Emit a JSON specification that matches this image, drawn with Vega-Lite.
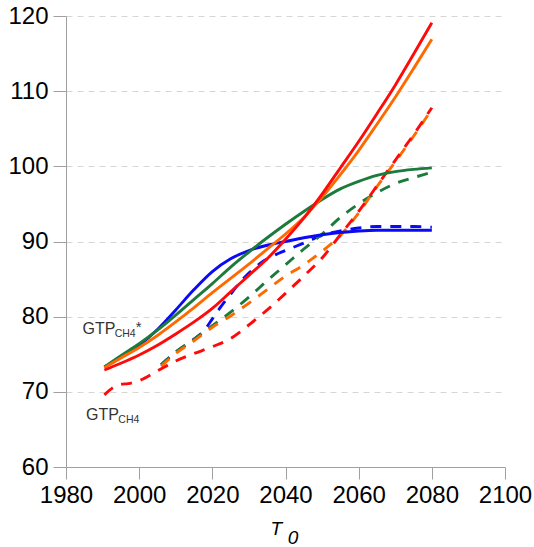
{
  "$schema": "https://vega.github.io/schema/vega-lite/v6.json",
  "autosize": "none",
  "width": 439,
  "height": 451,
  "padding": {"left": 66, "top": 16, "right": 29, "bottom": 80},
  "background": "white",
  "config": {"view": {"stroke": null}},
  "datasets": {
    "one": [{}],
    "lines": [
    {"s":"blue","t":"dashed","x":2006,"y":73.6},{"s":"blue","t":"dashed","x":2010,"y":75.3},{"s":"blue","t":"dashed","x":2015,"y":77.0},{"s":"blue","t":"dashed","x":2018,"y":78.3},{"s":"blue","t":"dashed","x":2020,"y":79.7},{"s":"blue","t":"dashed","x":2022,"y":81.1},{"s":"blue","t":"dashed","x":2025,"y":83.0},{"s":"blue","t":"dashed","x":2028,"y":84.8},{"s":"blue","t":"dashed","x":2030,"y":85.8},{"s":"blue","t":"dashed","x":2034,"y":87.4},{"s":"blue","t":"dashed","x":2038,"y":88.4},{"s":"blue","t":"dashed","x":2042,"y":89.2},{"s":"blue","t":"dashed","x":2046,"y":90.0},{"s":"blue","t":"dashed","x":2050,"y":90.8},{"s":"blue","t":"dashed","x":2055,"y":91.4},{"s":"blue","t":"dashed","x":2060,"y":91.8},{"s":"blue","t":"dashed","x":2065,"y":92.0},{"s":"blue","t":"dashed","x":2070,"y":92.0},{"s":"blue","t":"dashed","x":2075,"y":92.0},{"s":"blue","t":"dashed","x":2080,"y":91.9},
    {"s":"green","t":"dashed","x":2006,"y":73.6},{"s":"green","t":"dashed","x":2010,"y":75.3},{"s":"green","t":"dashed","x":2015,"y":77.0},{"s":"green","t":"dashed","x":2020,"y":78.8},{"s":"green","t":"dashed","x":2025,"y":80.6},{"s":"green","t":"dashed","x":2030,"y":82.6},{"s":"green","t":"dashed","x":2035,"y":84.8},{"s":"green","t":"dashed","x":2040,"y":86.9},{"s":"green","t":"dashed","x":2045,"y":89.0},{"s":"green","t":"dashed","x":2050,"y":91.0},{"s":"green","t":"dashed","x":2055,"y":93.2},{"s":"green","t":"dashed","x":2060,"y":95.0},{"s":"green","t":"dashed","x":2065,"y":96.5},{"s":"green","t":"dashed","x":2070,"y":97.7},{"s":"green","t":"dashed","x":2075,"y":98.5},{"s":"green","t":"dashed","x":2080,"y":99.2},
    {"s":"orange","t":"dashed","x":2006,"y":73.4},{"s":"orange","t":"dashed","x":2010,"y":75.1},{"s":"orange","t":"dashed","x":2015,"y":76.8},{"s":"orange","t":"dashed","x":2020,"y":78.6},{"s":"orange","t":"dashed","x":2025,"y":80.1},{"s":"orange","t":"dashed","x":2030,"y":81.8},{"s":"orange","t":"dashed","x":2035,"y":83.6},{"s":"orange","t":"dashed","x":2040,"y":85.4},{"s":"orange","t":"dashed","x":2045,"y":86.9},{"s":"orange","t":"dashed","x":2050,"y":88.7},{"s":"orange","t":"dashed","x":2055,"y":90.8},{"s":"orange","t":"dashed","x":2060,"y":93.8},{"s":"orange","t":"dashed","x":2065,"y":97.3},{"s":"orange","t":"dashed","x":2070,"y":100.6},{"s":"orange","t":"dashed","x":2075,"y":104.0},{"s":"orange","t":"dashed","x":2080,"y":107.6},
    {"s":"red","t":"dashed","x":1990.5,"y":69.6},{"s":"red","t":"dashed","x":1993,"y":70.6},{"s":"red","t":"dashed","x":1995,"y":71.0},{"s":"red","t":"dashed","x":1997,"y":71.1},{"s":"red","t":"dashed","x":2000,"y":71.5},{"s":"red","t":"dashed","x":2005,"y":72.8},{"s":"red","t":"dashed","x":2010,"y":74.1},{"s":"red","t":"dashed","x":2015,"y":75.1},{"s":"red","t":"dashed","x":2020,"y":76.0},{"s":"red","t":"dashed","x":2025,"y":77.1},{"s":"red","t":"dashed","x":2030,"y":78.9},{"s":"red","t":"dashed","x":2035,"y":80.9},{"s":"red","t":"dashed","x":2040,"y":83.1},{"s":"red","t":"dashed","x":2045,"y":85.4},{"s":"red","t":"dashed","x":2050,"y":87.8},{"s":"red","t":"dashed","x":2055,"y":90.9},{"s":"red","t":"dashed","x":2060,"y":94.0},{"s":"red","t":"dashed","x":2065,"y":97.4},{"s":"red","t":"dashed","x":2070,"y":100.8},{"s":"red","t":"dashed","x":2075,"y":104.2},{"s":"red","t":"dashed","x":2080,"y":107.8},
    {"s":"blue","t":"solid","x":1990.5,"y":73.3},{"s":"blue","t":"solid","x":1995,"y":74.6},{"s":"blue","t":"solid","x":2000,"y":76.2},{"s":"blue","t":"solid","x":2005,"y":78.3},{"s":"blue","t":"solid","x":2010,"y":80.9},{"s":"blue","t":"solid","x":2015,"y":83.6},{"s":"blue","t":"solid","x":2020,"y":86.0},{"s":"blue","t":"solid","x":2025,"y":87.7},{"s":"blue","t":"solid","x":2030,"y":88.8},{"s":"blue","t":"solid","x":2035,"y":89.5},{"s":"blue","t":"solid","x":2040,"y":90.0},{"s":"blue","t":"solid","x":2045,"y":90.5},{"s":"blue","t":"solid","x":2050,"y":90.9},{"s":"blue","t":"solid","x":2055,"y":91.2},{"s":"blue","t":"solid","x":2060,"y":91.4},{"s":"blue","t":"solid","x":2065,"y":91.5},{"s":"blue","t":"solid","x":2070,"y":91.5},{"s":"blue","t":"solid","x":2075,"y":91.5},{"s":"blue","t":"solid","x":2080,"y":91.5},
    {"s":"green","t":"solid","x":1990.5,"y":73.3},{"s":"green","t":"solid","x":1995,"y":74.8},{"s":"green","t":"solid","x":2000,"y":76.4},{"s":"green","t":"solid","x":2005,"y":78.2},{"s":"green","t":"solid","x":2010,"y":80.2},{"s":"green","t":"solid","x":2015,"y":82.3},{"s":"green","t":"solid","x":2020,"y":84.4},{"s":"green","t":"solid","x":2025,"y":86.6},{"s":"green","t":"solid","x":2030,"y":88.6},{"s":"green","t":"solid","x":2035,"y":90.5},{"s":"green","t":"solid","x":2040,"y":92.3},{"s":"green","t":"solid","x":2045,"y":94.0},{"s":"green","t":"solid","x":2050,"y":95.6},{"s":"green","t":"solid","x":2055,"y":97.0},{"s":"green","t":"solid","x":2060,"y":98.0},{"s":"green","t":"solid","x":2065,"y":98.8},{"s":"green","t":"solid","x":2070,"y":99.3},{"s":"green","t":"solid","x":2075,"y":99.6},{"s":"green","t":"solid","x":2080,"y":99.8},
    {"s":"orange","t":"solid","x":1990.5,"y":73.2},{"s":"orange","t":"solid","x":1995,"y":74.5},{"s":"orange","t":"solid","x":2000,"y":75.9},{"s":"orange","t":"solid","x":2005,"y":77.5},{"s":"orange","t":"solid","x":2010,"y":79.3},{"s":"orange","t":"solid","x":2015,"y":81.2},{"s":"orange","t":"solid","x":2020,"y":83.2},{"s":"orange","t":"solid","x":2025,"y":85.1},{"s":"orange","t":"solid","x":2030,"y":87.0},{"s":"orange","t":"solid","x":2035,"y":89.0},{"s":"orange","t":"solid","x":2040,"y":91.0},{"s":"orange","t":"solid","x":2045,"y":93.2},{"s":"orange","t":"solid","x":2050,"y":95.9},{"s":"orange","t":"solid","x":2055,"y":98.9},{"s":"orange","t":"solid","x":2060,"y":102.1},{"s":"orange","t":"solid","x":2065,"y":105.6},{"s":"orange","t":"solid","x":2070,"y":109.2},{"s":"orange","t":"solid","x":2075,"y":113.0},{"s":"orange","t":"solid","x":2080,"y":116.9},
    {"s":"red","t":"solid","x":1990.5,"y":72.9},{"s":"red","t":"solid","x":1995,"y":73.8},{"s":"red","t":"solid","x":2000,"y":74.9},{"s":"red","t":"solid","x":2005,"y":76.2},{"s":"red","t":"solid","x":2010,"y":77.7},{"s":"red","t":"solid","x":2015,"y":79.3},{"s":"red","t":"solid","x":2020,"y":81.1},{"s":"red","t":"solid","x":2025,"y":83.3},{"s":"red","t":"solid","x":2030,"y":85.5},{"s":"red","t":"solid","x":2035,"y":87.7},{"s":"red","t":"solid","x":2040,"y":90.3},{"s":"red","t":"solid","x":2045,"y":93.1},{"s":"red","t":"solid","x":2050,"y":96.3},{"s":"red","t":"solid","x":2055,"y":99.8},{"s":"red","t":"solid","x":2060,"y":103.3},{"s":"red","t":"solid","x":2065,"y":107.0},{"s":"red","t":"solid","x":2070,"y":110.8},{"s":"red","t":"solid","x":2075,"y":114.9},{"s":"red","t":"solid","x":2080,"y":119.1}
  ]},
  "layer": [
    {
      "data": {"name": "lines"},
      "transform": [{"filter": "datum.t === 'dashed'"}],
      "mark": {"type": "line", "interpolate": "monotone", "strokeWidth": 2.9, "strokeDash": [11, 9]},
      "encoding": {
        "x": {"field": "x", "type": "quantitative", "scale": {"domain": [1980, 2100]},
          "axis": {"values": [1980,1990,2000,2010,2020,2030,2040,2050,2060,2070,2080,2090,2100],
            "labelExpr": "datum.value % 20 === 0 ? datum.label : ''",
            "format": "d",
            "tickSize": {"condition": {"test": "datum.value % 20 === 0", "value": 12}, "value": 6},
            "grid": false, "title": null,
            "domainColor": "#a0a0a0", "tickColor": "#a0a0a0",
            "labelFont": "Liberation Sans", "labelFontSize": 24, "labelColor": "#000000",
            "labelPadding": 4, "labelFlush": false, "labelOverlap": false, "labelBound": false}},
        "y": {"field": "y", "type": "quantitative", "scale": {"domain": [60, 120]},
          "axis": {"values": [60,65,70,75,80,85,90,95,100,105,110,115,120],
            "labelExpr": "datum.value % 10 === 0 ? datum.label : ''",
            "tickSize": {"condition": {"test": "datum.value % 10 === 0", "value": 13}, "value": 7},
            "grid": true,
            "gridOpacity": {"condition": {"test": "datum.value % 10 === 0 && datum.value > 60", "value": 1}, "value": 0},
            "gridDash": [6, 5], "gridColor": "#d6d6d6", "gridWidth": 1,
            "title": null,
            "domainColor": "#a0a0a0", "tickColor": "#a0a0a0",
            "labelFont": "Liberation Sans", "labelFontSize": 24, "labelColor": "#000000",
            "labelPadding": 5, "labelFlush": false, "labelOverlap": false, "labelBound": false}},
        "color": {"field": "s", "type": "nominal", "legend": null,
          "scale": {"domain": ["blue", "green", "orange", "red"], "range": ["#0a0af5", "#1b7a3c", "#ff6a00", "#ff0a0a"]}}
      }
    },
    {
      "data": {"name": "lines"},
      "transform": [{"filter": "datum.t === 'solid'"}],
      "mark": {"type": "line", "interpolate": "monotone", "strokeWidth": 2.9},
      "encoding": {
        "x": {"field": "x", "type": "quantitative"},
        "y": {"field": "y", "type": "quantitative"},
        "color": {"field": "s", "type": "nominal", "legend": null}
      }
    },
    {"data": {"name": "one"},
     "mark": {"type": "text", "text": "GTP", "font": "Liberation Sans", "fontSize": 16, "fontWeight": "normal", "align": "left", "baseline": "alphabetic", "color": "#333333"},
     "encoding": {"x": {"datum": 1984.5}, "y": {"datum": 77.66}}},
    {"data": {"name": "one"},
     "mark": {"type": "text", "text": "CH4", "font": "Liberation Sans", "fontSize": 10.5, "fontWeight": "normal", "align": "left", "baseline": "alphabetic", "color": "#333333"},
     "encoding": {"x": {"datum": 1993.3}, "y": {"datum": 77.3}}},
    {"data": {"name": "one"},
     "mark": {"type": "text", "text": "*", "font": "Liberation Sans", "fontSize": 15, "fontWeight": "normal", "align": "left", "baseline": "alphabetic", "color": "#333333"},
     "encoding": {"x": {"datum": 1999.1}, "y": {"datum": 78.0}}},
    {"data": {"name": "one"},
     "mark": {"type": "text", "text": "GTP", "font": "Liberation Sans", "fontSize": 16, "fontWeight": "normal", "align": "left", "baseline": "alphabetic", "color": "#333333"},
     "encoding": {"x": {"datum": 1985.5}, "y": {"datum": 66.25}}},
    {"data": {"name": "one"},
     "mark": {"type": "text", "text": "CH4", "font": "Liberation Sans", "fontSize": 10.5, "fontWeight": "normal", "align": "left", "baseline": "alphabetic", "color": "#333333"},
     "encoding": {"x": {"datum": 1994.3}, "y": {"datum": 65.82}}},
    {"data": {"name": "one"},
     "mark": {"type": "text", "text": "T", "font": "Liberation Sans", "fontSize": 19, "fontWeight": "normal", "fontStyle": "italic", "align": "left", "baseline": "alphabetic", "color": "#000000"},
     "encoding": {"x": {"datum": 2035.9}, "y": {"datum": 50.96}}},
    {"data": {"name": "one"},
     "mark": {"type": "text", "text": "0", "font": "Liberation Sans", "fontSize": 19, "fontWeight": "normal", "fontStyle": "italic", "align": "left", "baseline": "alphabetic", "color": "#000000"},
     "encoding": {"x": {"datum": 2040.6}, "y": {"datum": 49.76}}}
  ]
}
